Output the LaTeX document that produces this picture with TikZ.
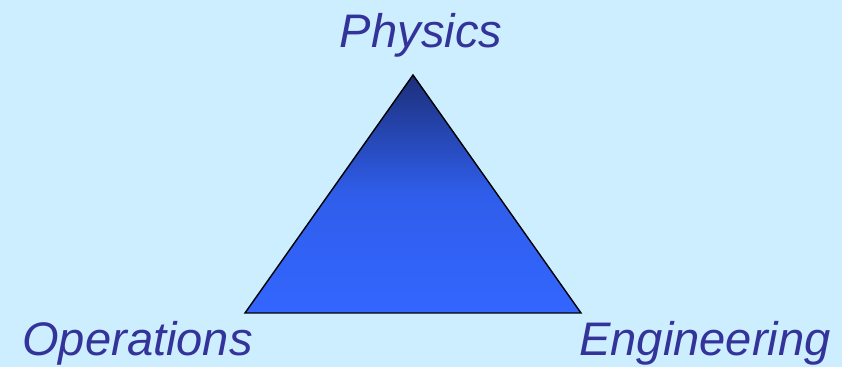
\documentclass[tikz,border=0pt]{standalone}
\usepackage{fontspec}
\setmainfont{Liberation Sans}
\definecolor{slidebg}{HTML}{CCEEFF}
\definecolor{labelblue}{HTML}{333399}
\definecolor{topblue}{HTML}{1C2F7A}
\definecolor{basblue}{HTML}{3366FF}
\begin{document}
\begin{tikzpicture}[x=0.02cm, y=-0.02cm,
    corner/.style={labelblue, inner sep=0pt, font=\fontsize{26.8}{31}\selectfont\itshape}]
  \fill[slidebg] (0,0) rectangle (842,367);
  \coordinate (apex) at (413,75);
  \coordinate (lbase) at (245,313);
  \coordinate (rbase) at (581,313);
  \shade[top color=topblue, bottom color=basblue, middle color=basblue!85!topblue,
    draw=black, line width=0.8pt, line join=miter] (apex) -- (lbase) -- (rbase) -- cycle;
  \node[corner, anchor=base] (phys) at (421,48) {Physics};
  \node[corner, anchor=base west] (ops) at (22,356) {Operations};
  \node[corner, anchor=base east] (eng) at (831,356) {Engineering};
\end{tikzpicture}
\end{document}
